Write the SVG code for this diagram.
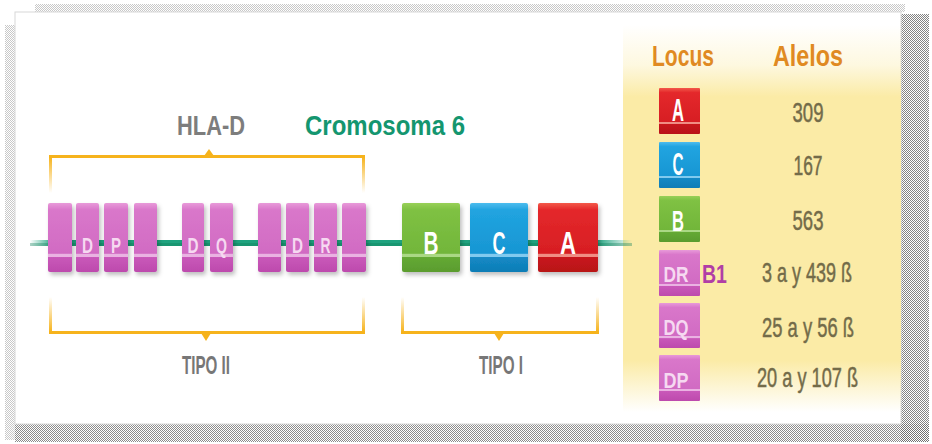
<svg xmlns="http://www.w3.org/2000/svg" width="932" height="444" viewBox="0 0 932 444">
<defs>
<style>
.t{font-family:"Liberation Sans Narrow","Liberation Sans",Arial,sans-serif;font-weight:bold}
.n{font-family:"Liberation Sans Narrow","Liberation Sans",Arial,sans-serif;font-weight:normal;fill:#736b49;stroke:#736b49;stroke-width:0.5;font-size:28px;text-anchor:middle}
.w{fill:#ffffff;text-anchor:middle}
.pl{fill:#f6d9f1;text-anchor:middle}
.br{fill:#f6b31c}
</style>
<pattern id="chk" width="2" height="2" patternUnits="userSpaceOnUse"><rect width="1" height="1" fill="#6e6e6e"/><rect x="1" y="1" width="1" height="1" fill="#6e6e6e"/></pattern>
<pattern id="chkL" width="2" height="2" patternUnits="userSpaceOnUse"><rect width="1" height="1" fill="#c8c8c8"/><rect x="1" y="1" width="1" height="1" fill="#c8c8c8"/></pattern>
<linearGradient id="gPink" x1="0" y1="0" x2="0" y2="1">
<stop offset="0" stop-color="#e89ad9"/><stop offset="0.1" stop-color="#d977ca"/><stop offset="0.73" stop-color="#d16bc3"/><stop offset="0.74" stop-color="#eab2e2"/><stop offset="0.78" stop-color="#eab2e2"/><stop offset="0.79" stop-color="#c958b9"/><stop offset="1" stop-color="#bd4aad"/>
</linearGradient>
<linearGradient id="gGreen" x1="0" y1="0" x2="0" y2="1">
<stop offset="0" stop-color="#98d058"/><stop offset="0.1" stop-color="#7fc143"/><stop offset="0.73" stop-color="#72b63a"/><stop offset="0.74" stop-color="#aad884"/><stop offset="0.78" stop-color="#aad884"/><stop offset="0.79" stop-color="#64a934"/><stop offset="1" stop-color="#5a9c2e"/>
</linearGradient>
<linearGradient id="gBlue" x1="0" y1="0" x2="0" y2="1">
<stop offset="0" stop-color="#4dbcee"/><stop offset="0.1" stop-color="#21a4e0"/><stop offset="0.73" stop-color="#1796d3"/><stop offset="0.74" stop-color="#80caef"/><stop offset="0.78" stop-color="#80caef"/><stop offset="0.79" stop-color="#1389c5"/><stop offset="1" stop-color="#0f7db6"/>
</linearGradient>
<linearGradient id="gRed" x1="0" y1="0" x2="0" y2="1">
<stop offset="0" stop-color="#f3594a"/><stop offset="0.1" stop-color="#e4282b"/><stop offset="0.73" stop-color="#d71e23"/><stop offset="0.74" stop-color="#f08d84"/><stop offset="0.78" stop-color="#f08d84"/><stop offset="0.79" stop-color="#c8171c"/><stop offset="1" stop-color="#b81218"/>
</linearGradient>
<linearGradient id="gYellow" x1="0" y1="0" x2="0" y2="1">
<stop offset="0" stop-color="#fbeba6" stop-opacity="0"/><stop offset="0.1" stop-color="#fbeba6" stop-opacity="0.35"/><stop offset="0.18" stop-color="#fbeba6"/><stop offset="0.84" stop-color="#fbeba6"/><stop offset="0.97" stop-color="#fbeba6" stop-opacity="0"/>
</linearGradient>
<linearGradient id="gLine" x1="0" y1="0" x2="1" y2="0">
<stop offset="0" stop-color="#1fa37f" stop-opacity="0"/><stop offset="0.04" stop-color="#1fa37f"/><stop offset="0.94" stop-color="#1fa37f"/><stop offset="1" stop-color="#1fa37f" stop-opacity="0"/>
</linearGradient>
<linearGradient id="gUp" x1="0" y1="0" x2="0" y2="1">
<stop offset="0" stop-color="#f6b31c"/><stop offset="1" stop-color="#f6b31c" stop-opacity="0"/>
</linearGradient>
<linearGradient id="gDown" x1="0" y1="0" x2="0" y2="1">
<stop offset="0" stop-color="#f6b31c" stop-opacity="0"/><stop offset="1" stop-color="#f6b31c"/>
</linearGradient>
<filter id="sh" x="-20%" y="-20%" width="150%" height="150%"><feDropShadow dx="2" dy="3" stdDeviation="2" flood-color="#000" flood-opacity="0.25"/></filter>
</defs>

<!-- frame and halftone shadows -->
<rect x="0" y="0" width="932" height="444" fill="#ffffff"/>
<rect x="35" y="4" width="870" height="8" fill="url(#chkL)"/>
<rect x="5" y="25" width="10" height="415" fill="url(#chkL)"/>
<rect x="901" y="14" width="28" height="428" fill="url(#chk)" opacity="0.85"/>
<rect x="15" y="424" width="914" height="18" fill="url(#chk)" opacity="0.8"/>
<rect x="15" y="12" width="886" height="412" fill="#ffffff" stroke="#d8d8d8" stroke-width="1"/>

<!-- yellow table panel -->
<rect id="panel" x="623" y="25" width="278" height="399" fill="url(#gYellow)"/>

<!-- connectors: chromosome line and brackets -->
<g id="connectors">
<rect x="30" y="240" width="602" height="6" fill="url(#gLine)"/>
<rect x="30" y="243" width="602" height="3" fill="#0f7f58" opacity="0.35"/>
<!-- HLA-D bracket -->
<rect class="br" x="49" y="155" width="316" height="3"/>
<rect x="49" y="157" width="3" height="36" fill="url(#gUp)"/>
<rect x="362" y="157" width="3" height="36" fill="url(#gUp)"/>
<polygon class="br" points="204,156 214,156 209,149"/>
<!-- TIPO II bracket -->
<rect class="br" x="49" y="331" width="316" height="3"/>
<rect x="49" y="297" width="3" height="35" fill="url(#gDown)"/>
<rect x="362" y="297" width="3" height="35" fill="url(#gDown)"/>
<polygon class="br" points="201,333 211,333 206,341"/>
<!-- TIPO I bracket -->
<rect class="br" x="401" y="331" width="198" height="3"/>
<rect x="401" y="297" width="3" height="35" fill="url(#gDown)"/>
<rect x="596" y="297" width="3" height="35" fill="url(#gDown)"/>
<polygon class="br" points="494,333 504,333 499,341"/>
</g>

<!-- titles -->
<g id="title-hla"><text class="t" x="211" y="135" font-size="28" fill="#7d7d7d" text-anchor="middle" textLength="68" lengthAdjust="spacingAndGlyphs">HLA-D</text></g>
<g id="title-crom"><text class="t" x="385" y="135" font-size="28" fill="#14966f" text-anchor="middle" textLength="160" lengthAdjust="spacingAndGlyphs">Cromosoma 6</text></g>
<g id="label-tipo2"><text class="t" x="206" y="374" font-size="26" fill="#777777" text-anchor="middle" textLength="48" lengthAdjust="spacingAndGlyphs">TIPO II</text></g>
<g id="label-tipo1"><text class="t" x="501" y="374" font-size="26" fill="#777777" text-anchor="middle" textLength="44" lengthAdjust="spacingAndGlyphs">TIPO I</text></g>

<!-- class II genes -->
<g id="dp" filter="url(#sh)">
<rect x="48" y="203" width="24" height="69" rx="2" fill="url(#gPink)"/>
<rect x="76" y="203" width="23" height="69" rx="2" fill="url(#gPink)"/>
<rect x="104" y="203" width="24" height="69" rx="2" fill="url(#gPink)"/>
<rect x="134" y="203" width="23" height="69" rx="2" fill="url(#gPink)"/>
</g>
<g id="dp-label"><text class="t pl" x="87.5" y="253" font-size="22" textLength="11" lengthAdjust="spacingAndGlyphs">D</text><text class="t pl" x="116" y="253" font-size="22" textLength="10" lengthAdjust="spacingAndGlyphs">P</text></g>
<g id="dq" filter="url(#sh)">
<rect x="182" y="203" width="22" height="69" rx="2" fill="url(#gPink)"/>
<rect x="210" y="203" width="23" height="69" rx="2" fill="url(#gPink)"/>
</g>
<g id="dq-label"><text class="t pl" x="193" y="253" font-size="22" textLength="11" lengthAdjust="spacingAndGlyphs">D</text><text class="t pl" x="221.5" y="253" font-size="22" textLength="11" lengthAdjust="spacingAndGlyphs">Q</text></g>
<g id="dr" filter="url(#sh)">
<rect x="258" y="203" width="23" height="69" rx="2" fill="url(#gPink)"/>
<rect x="286" y="203" width="23" height="69" rx="2" fill="url(#gPink)"/>
<rect x="314" y="203" width="23" height="69" rx="2" fill="url(#gPink)"/>
<rect x="342" y="203" width="24" height="69" rx="2" fill="url(#gPink)"/>
</g>
<g id="dr-label"><text class="t pl" x="297.5" y="253" font-size="22" textLength="11" lengthAdjust="spacingAndGlyphs">D</text><text class="t pl" x="325.5" y="253" font-size="22" textLength="10" lengthAdjust="spacingAndGlyphs">R</text></g>

<!-- class I genes -->
<g id="gene-b"><rect x="402" y="203" width="58" height="69" rx="2" fill="url(#gGreen)" filter="url(#sh)"/><text class="t w" x="431" y="254" font-size="31" textLength="15" lengthAdjust="spacingAndGlyphs">B</text></g>
<g id="gene-c"><rect x="470" y="203" width="58" height="69" rx="2" fill="url(#gBlue)" filter="url(#sh)"/><text class="t w" x="499" y="254" font-size="31" textLength="13" lengthAdjust="spacingAndGlyphs">C</text></g>
<g id="gene-a"><rect x="538" y="203" width="60" height="69" rx="2" fill="url(#gRed)" filter="url(#sh)"/><text class="t w" x="568" y="254" font-size="31" textLength="16" lengthAdjust="spacingAndGlyphs">A</text></g>

<!-- table -->
<g id="hdr-locus"><text class="t" x="683" y="66" font-size="29" fill="#e08a22" text-anchor="middle" textLength="62" lengthAdjust="spacingAndGlyphs">Locus</text></g>
<g id="hdr-alelos"><text class="t" x="808" y="66" font-size="29" fill="#e08a22" text-anchor="middle" textLength="70" lengthAdjust="spacingAndGlyphs">Alelos</text></g>

<g id="row-a"><rect x="659" y="88" width="41" height="46" rx="1" fill="url(#gRed)"/><text class="t w" x="678" y="121" font-size="32" textLength="12" lengthAdjust="spacingAndGlyphs">A</text><text class="n" x="808" y="122" textLength="31" lengthAdjust="spacingAndGlyphs">309</text></g>
<g id="row-c"><rect x="659" y="142" width="41" height="46" rx="1" fill="url(#gBlue)"/><text class="t w" x="678" y="175" font-size="32" textLength="11" lengthAdjust="spacingAndGlyphs">C</text><text class="n" x="808" y="175" textLength="29" lengthAdjust="spacingAndGlyphs">167</text></g>
<g id="row-b"><rect x="659" y="196" width="41" height="46" rx="1" fill="url(#gGreen)"/><text class="t w" x="678" y="231" font-size="29" textLength="12" lengthAdjust="spacingAndGlyphs">B</text><text class="n" x="808" y="230" textLength="31" lengthAdjust="spacingAndGlyphs">563</text></g>
<g id="row-dr"><rect x="659" y="250" width="41" height="46" rx="1" fill="url(#gPink)"/><text class="t pl" x="676" y="282" font-size="22" textLength="25" lengthAdjust="spacingAndGlyphs">DR</text><text class="t" x="714.5" y="283" font-size="26" fill="#b13ea6" text-anchor="middle" textLength="25" lengthAdjust="spacingAndGlyphs">B1</text><text class="n" x="807" y="282" textLength="90" lengthAdjust="spacingAndGlyphs">3 a y 439 ß</text></g>
<g id="row-dq"><rect x="659" y="303" width="41" height="45" rx="1" fill="url(#gPink)"/><text class="t pl" x="676" y="335" font-size="22" textLength="25" lengthAdjust="spacingAndGlyphs">DQ</text><text class="n" x="808" y="337" textLength="92" lengthAdjust="spacingAndGlyphs">25 a y 56 ß</text></g>
<g id="row-dp"><rect x="659" y="355" width="41" height="46" rx="1" fill="url(#gPink)"/><text class="t pl" x="676" y="388" font-size="22" textLength="25" lengthAdjust="spacingAndGlyphs">DP</text><text class="n" x="807.5" y="387" textLength="101" lengthAdjust="spacingAndGlyphs">20 a y 107 ß</text></g>
</svg>
